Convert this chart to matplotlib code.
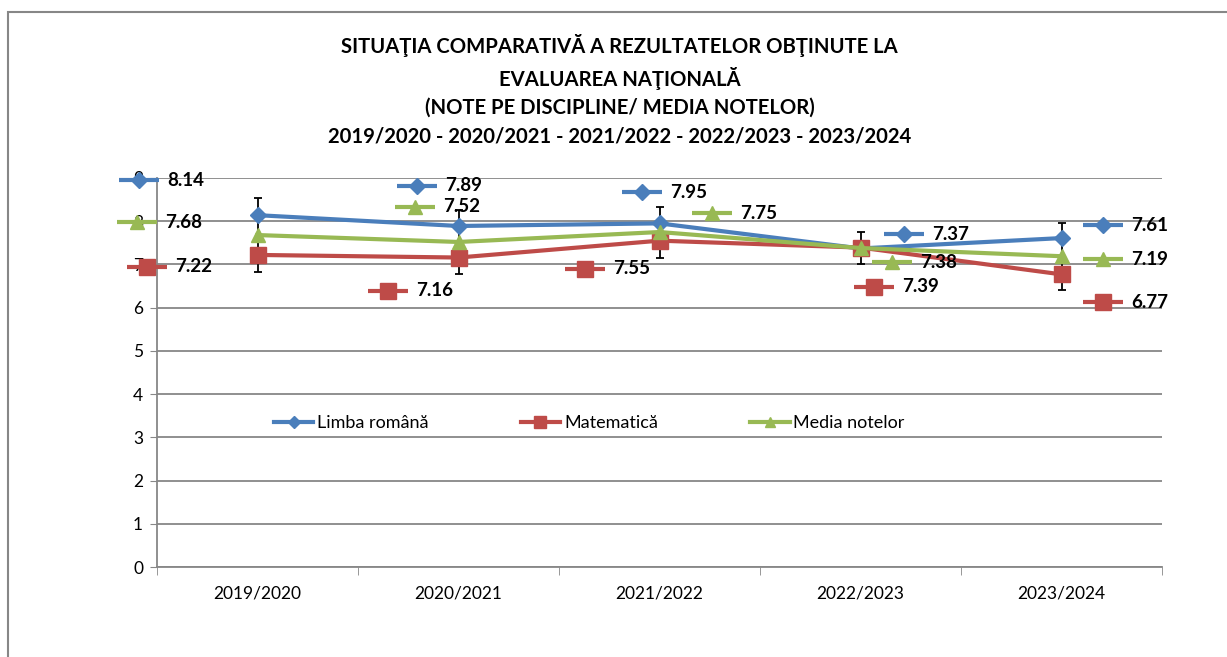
import matplotlib
matplotlib.use("Agg")
import matplotlib.pyplot as plt
from matplotlib.transforms import offset_copy
from matplotlib.patches import Rectangle

# date
ani = ["2019/2020", "2020/2021", "2021/2022", "2022/2023", "2023/2024"]
romana = [8.14, 7.89, 7.95, 7.37, 7.61]
matematica = [7.22, 7.16, 7.55, 7.39, 6.77]
media = [7.68, 7.52, 7.75, 7.38, 7.19]
erori_media = [0.85, 0.74, 0.59, 0.36, 0.77]

titlu = ("SITUAŢIA COMPARATIVĂ A REZULTATELOR OBŢINUTE LA\n"
         "EVALUAREA NAŢIONALĂ\n"
         "(NOTE PE DISCIPLINE/ MEDIA NOTELOR)\n"
         "2019/2020 - 2020/2021 - 2021/2022 - 2022/2023 - 2023/2024")

# pozitiile etichetelor (in pixeli fata de punct, y in jos)
pos_romana = [(-119, -35), (-42, -40), (-18, -31), (43, -14), (41, -13)]
pos_matematica = [(-111, 12), (-71, 33), (-75, 28), (13, 39), (41, 28)]
pos_media = [(-121, -13), (-44, -35), (52, -19), (31, 14), (41, 3)]

albastru = "#4A7EBB"
rosu = "#BE4B48"
verde = "#98B954"
gri = "#878787"

plt.rcParams['font.family'] = ['Lato', 'DejaVu Sans']

fig = plt.figure(figsize=(12.27, 6.57), dpi=100)
fig.patches.append(Rectangle((8 / 1227, -0.1), 1.2, 1 - 12 / 657 + 0.1,
                             transform=fig.transFigure, fill=False,
                             edgecolor=gri, linewidth=1.5))
ax = fig.add_axes([157 / 1227, 1 - 567 / 657, 1005 / 1227, 389 / 657])

x = list(range(len(ani)))
ax.errorbar(x, media, yerr=erori_media, fmt='none', ecolor='black',
            elinewidth=1.3, capsize=3, capthick=1.3, zorder=2)

serii = [
    ("Limba română", romana, albastru, 'D', 8, pos_romana),
    ("Matematică", matematica, rosu, 's', 12, pos_matematica),
    ("Media notelor", media, verde, '^', 10, pos_media),
]

for nume, vals, cul, mk, ms, pos in serii:
    ax.plot(x, vals, color=cul, linewidth=3, marker=mk, markersize=ms,
            label=nume, zorder=3)
    for i, v in enumerate(vals):
        dx, dy = pos[i]
        t = offset_copy(ax.transData, fig=fig, x=dx, y=-dy, units='dots')
        ax.plot(i, v, marker='_', markersize=29, markeredgewidth=3,
                color=cul, transform=t, clip_on=False, zorder=4)
        ax.plot(i, v, marker=mk, markersize=ms, color=cul, transform=t,
                clip_on=False, zorder=4)
        ax.annotate(f"{v:.2f}", xy=(i, v), xytext=(dx + 29, -dy),
                    textcoords='offset pixels', va='center', ha='left',
                    fontsize=13.5, fontweight='bold', color='black',
                    annotation_clip=False, zorder=5)

ax.set_xlim(-0.5, 4.5)
ax.set_ylim(0, 9)
ax.set_yticks(range(0, 10))
ax.set_xticks(x)
ax.set_xticklabels(ani, fontsize=12.5)
ax.set_xticks([i - 0.5 for i in range(6)], minor=True)
ax.tick_params(axis='x', which='major', length=0, pad=13)
ax.tick_params(axis='x', which='minor', length=6, color=gri)
ax.tick_params(axis='y', length=5, color=gri, labelsize=12.5, pad=5)
ax.grid(axis='y', color=gri, linewidth=1.3)
ax.set_axisbelow(True)
for s in ['top', 'right']:
    ax.spines[s].set_visible(False)
for s in ['left', 'bottom']:
    ax.spines[s].set_color(gri)
    ax.spines[s].set_linewidth(1.3)

leg = ax.legend(loc='center', bbox_to_anchor=(0.430, 0.37), ncol=3,
                frameon=False, fontsize=13, handlelength=2.2,
                handletextpad=0.2, columnspacing=5.1, markerscale=0.75)

fig.text(0.505, 1 - 90 / 657, titlu, ha='center', va='center',
         fontsize=14.6, fontweight='bold', linespacing=1.52)

fig.savefig("out.png", dpi=100)
